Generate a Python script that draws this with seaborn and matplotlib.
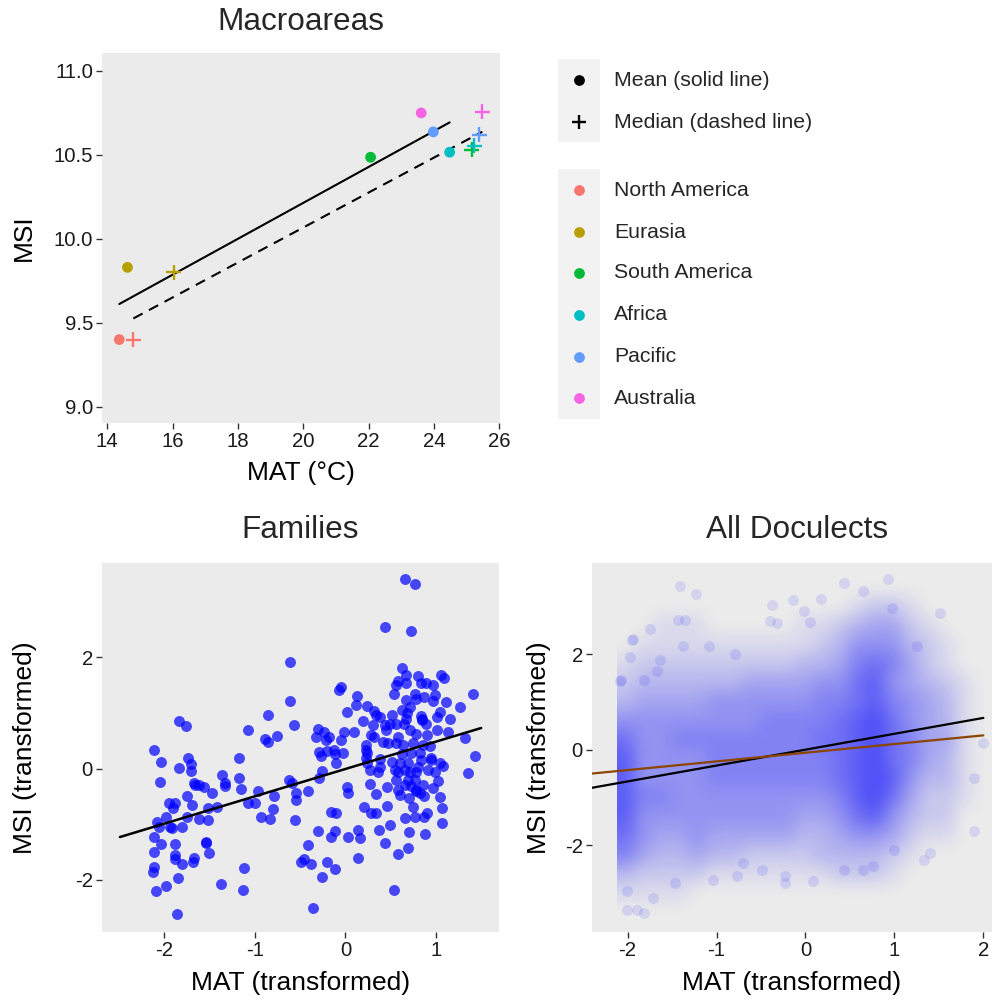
import numpy as np
import pandas as pd
import matplotlib
matplotlib.use("Agg")
import matplotlib.pyplot as plt
from matplotlib.patches import Rectangle
import seaborn as sns

# ---------------- data ----------------
macro_names = ["North America", "Eurasia", "South America", "Africa", "Pacific", "Australia"]
macro_colors = ["#F8766D", "#B79F00", "#00BA38", "#00BFC4", "#619CFF", "#F564E3"]
mean_mat = [14.37, 14.62, 22.06, 24.48, 23.98, 23.61]
mean_msi = [9.40, 9.83, 10.486, 10.516, 10.637, 10.75]
median_mat = [14.80, 16.03, 25.15, 25.23, 25.39, 25.48]
median_msi = [9.40, 9.80, 10.53, 10.554, 10.62, 10.758]

fam_mat = [-2.116, -2.035, -2.046, -1.947, -1.903, -1.88, -1.976, -2.08, -2.06, -1.94, -1.92,
           -2.11, -2.04, -2.11, -2.11, -2.12, -2.094, -1.976, -1.855, -1.848, -1.877, -1.884,
           -1.884, -1.80, -1.84, -1.755, -1.84, -1.737, -1.708, -1.704, -1.668, -1.66, -1.62,
           -1.56, -1.745, -1.69, -1.75, -1.80, -1.62, -1.516, -1.52, -1.47, -1.417, -1.54,
           -1.535, -1.51, -1.67, -1.68, -1.373, -1.36, -1.33, -1.33, -1.17, -1.17, -1.15,
           -1.078, -1.075, -0.997, -0.96, -1.12, -1.126, -0.935, -0.835, -0.80, -0.79, -0.883,
           -0.85, -0.75, -0.854, -0.61, -0.615, -0.567, -0.62, -0.59, -0.55, -0.55, -0.556,
           -0.41, -0.41, -0.486, -0.46, -0.383, -0.36, -0.258, -0.20, -0.114, -0.155, -0.114,
           -0.30, -0.155, -0.10, -0.30, -0.33, -0.236, -0.18, -0.21, -0.294, -0.27, -0.20,
           -0.125, -0.114, -0.022, -0.044, -0.018, -0.258, -0.29, -0.107, -0.07, -0.044, 0.018,
           0.10, 0.015, 0.033, 0.026, 0.14, 0.16, 0.14, 0.13, 0.114, 0.19, 0.24, 0.21, 0.28,
           0.335, 0.27, 0.335, 0.37, 0.434, 0.46, 0.46, 0.49, 0.58, 0.534, 0.434, 0.66, 0.766,
           0.73, 0.63, 0.67, 0.58, 0.556, 0.67, 0.534, 0.806, 0.83, 0.89, 0.97, 0.766, 0.785,
           0.87, 0.985, 0.97, 1.06, 1.09, 1.115, 1.27, 1.41, 1.15, 1.05, 1.016, 1.13, 1.32,
           1.435, 1.35, 1.01, 1.05, 1.08, 0.985, 1.02, 0.97, 1.05, 1.065, 1.065, 0.87, 0.90,
           0.87, 0.88, 0.70, 0.69, 0.66, 0.77, 0.75, 0.785, 0.70, 0.585, 0.60, 0.555, 0.47,
           0.415, 0.32, 0.28, 0.30, 0.34, 0.32, 0.434, 0.45, 0.49, 0.51, 0.38, 0.23, 0.23, 0.24,
           0.23, 0.24, 0.276, 0.36, 0.386, 0.386, 0.51, 0.563, 0.585, 0.636, 0.62, 0.60, 0.545,
           0.58, 0.644, 0.673, 0.68, 0.71, 0.67, 0.62, 0.563, 0.71, 0.785, 0.75, 0.72, 0.69,
           0.655, 0.71, 0.785, 0.766, 0.69, 0.655, 0.73, 0.80, 0.84, 0.82, 0.86, 0.90, 0.85,
           0.83, 0.85, 0.89, 0.93, 0.95, 0.91, 0.94, 0.86, 0.785, 0.82]
fam_msi = [0.335, 0.12, -0.234, -0.61, -0.71, -0.62, -0.86, -0.95, -1.04, -1.04, -1.07,
           -1.23, -1.35, -1.49, -1.77, -1.85, -2.20, -2.10, -2.62, -1.97, -1.35, -1.55,
           -1.63, -1.72, 0.86, 0.77, 0.006, 0.20, 0.08, -0.04, -0.26, -0.29, -0.29,
           -0.335, -0.49, -0.66, -0.86, -1.04, -0.90, -0.92, -0.70, -0.43, -0.68, -1.32,
           -1.34, -1.51, -1.61, -1.68, -2.08, -0.12, -0.25, -0.32, 0.19, -0.16, -0.37,
           0.69, -0.62, -0.62, -0.41, -1.78, -2.18, -0.86, -0.90, -0.73, -0.49, 0.53,
           0.47, 0.59, 0.96, 1.92, 1.21, 0.78, -0.20, -0.25, -0.43, -0.56, -0.92,
           -0.41, -1.37, -1.68, -1.63, -1.72, -2.50, -1.94, -1.68, -1.80, -1.23, -1.12,
           -1.12, -0.77, -0.80, 0.72, 0.56, 0.66, 0.56, 0.52, 0.305, 0.22, 0.32,
           0.335, 0.26, 0.29, 0.515, 0.665, -0.05, -0.16, 0.096, 1.41, 1.47, 1.02,
           0.665, -0.335, -0.43, -1.23, -1.10, -1.25, -1.61, 1.31, 1.14, 0.86, 1.13, -0.68, -0.80,
           -0.80, -0.28, -0.46, -1.11, -1.33, -0.67, -0.335, -1.01, -1.53, -2.18, 2.55, 3.40, 3.31,
           2.47, 1.80, 1.68, 1.58, 1.50, 1.53, 1.35, 1.66, 1.53, 1.53, 1.51, 1.35, 1.26,
           1.29, 1.32, 1.22, 1.68, 1.62, 1.19, 1.10, 1.35, 0.90, 1.01, 0.93, 0.665, 0.545,
           0.23, -0.084, 0.69, 0.096, 0.05, -0.054, -0.22, -0.35, -0.51, -0.70, -0.97, -0.50, -0.80,
           -0.86, -1.17, -1.13, -1.42, -0.89, -0.86, -0.68, -0.40, -0.53, -0.38, -0.47, -0.20, 0.455,
           0.47, 0.575, 0.60, 0.78, 0.96, 1.04, 0.78, 0.69, 0.81, 0.96, 0.93, 0.425, 0.335, 0.275,
           0.186, 0.096, -0.024, -0.054, 0.036, 0.17, 0.126, 0.455, 0.575, 0.425, 0.26, 0.096, -0.024,
           -0.054, 0.81, 0.90, 1.0, 1.11, 1.23, 1.05, 0.81, 0.69, 0.62, 0.455, 0.275, 0.096,
           -0.024, -0.054, -0.054, -0.20, -0.20, -0.29, -0.32, 0.036, 0.156, 0.275, 0.425, 0.605, 0.875,
           0.95, 0.90, 0.81, 0.40, 0.156, -0.024, 0.19, -0.29, -0.38, -0.44]

# model lines (intercept, slope) and x-extent
fam_line_x = [-2.49, 1.50]
fam_line_coef = (-0.006, 0.491)
doc_line_x = [-2.40, 2.00]
doc_line_black = (0.0, 0.333)
doc_line_brown = (-0.064, 0.182)

# All doculects: estimated point density (0-9) on a 0.2 x 0.4 grid
doc_x_range = (-2.12, 2.08)
doc_y_range = (-3.6, 3.6)
doc_density_rows = [  # top row y=3.4 ... bottom row y=-3.4 ; columns x=-2.02 ... 1.98
    "000000000000000000000",
    "000000000000012210000",
    "001110000011234421000",
    "011111111112355532100",
    "122222222233467642100",
    "233333344445578543210",
    "344445555556678654310",
    "555555556666789754310",
    "755666666667789764410",
    "855556666666789764310",
    "855556666666789853310",
    "866555555555689742210",
    "855555555544578532200",
    "754454444433455421100",
    "643343322223333210000",
    "322221111111222100000",
    "111100000000000000000",
    "000000000000000000000",
]
doc_fringe_mat = [-1.41, -1.23, -1.75, -1.94, -1.97, -2.08, -1.82, -1.43, -1.355, -1.38, -1.08,
                  -0.79, -0.38, -0.14, -0.02, 0.18, -0.40, -0.32, 0.05, 0.43, 0.65, 0.93, 0.97,
                  1.51, 1.25, 1.89, 1.89, 2.0, 1.40, 1.33, -0.23, -0.23, 0.09, -0.77, -1.04,
                  -1.47, -1.71, -1.82, -1.89, -2.01, -2.01, 0.43, 0.65, 0.76, 0.99, -0.70, -0.49,
                  -1.64, -1.67, -2.07, -1.95]
doc_fringe_msi = [3.44, 3.27, 2.53, 2.32, 1.94, 1.45, 1.47, 2.73, 2.73, 2.17, 2.17,
                  2.0, 3.04, 3.13, 2.90, 3.15, 2.69, 2.66, 2.67, 3.50, 3.32, 3.57, 2.97,
                  2.87, 2.17, -1.71, -0.59, 0.14, -2.17, -2.31, -2.66, -2.80, -2.76, -2.66, -2.73,
                  -2.80, -3.11, -3.43, -3.37, -3.36, -2.97, -2.52, -2.52, -2.45, -2.10, -2.38, -2.52,
                  1.89, 1.64, 1.47, 2.31]

# ---------------- style ----------------
sns.set_theme(style="white")
plt.rcParams["font.family"] = ["Liberation Sans", "DejaVu Sans"]
plt.rcParams["axes.unicode_minus"] = False

PANEL = "#EBEBEB"
TICKC = "#333333"
LABC = "#1A1A1A"
FS_TICK = 14.7
FS_AX = 19.0
FS_TITLE = 22.7
FS_LEG = 15.3

fig = plt.figure(figsize=(9.92, 10.0), dpi=100)


def style_ax(ax):
    ax.set_facecolor(PANEL)
    for s in ax.spines.values():
        s.set_visible(False)
    ax.grid(False)
    ax.tick_params(axis="both", which="both", length=4.5, width=1.0, color=TICKC,
                   labelcolor=LABC, labelsize=FS_TICK, pad=2, direction="out",
                   bottom=True, left=True)


def place_labels(ax, xl, yl, xy, yx):
    ax.set_xlabel(xl, fontsize=FS_AX, color="black")
    ax.set_ylabel(yl, fontsize=FS_AX, color="black")
    ax.xaxis.set_label_coords(0.5, xy)
    ax.yaxis.set_label_coords(yx, 0.5)
    for lab in (ax.xaxis.label, ax.yaxis.label):
        lab.set_va("center")
        lab.set_ha("center")


# ---------- Macroareas ----------
ax1 = fig.add_axes([0.1028, 0.577, 0.4012, 0.370])
style_ax(ax1)
dfm = pd.DataFrame({"mat": mean_mat, "msi": mean_msi, "area": macro_names})
dfd = pd.DataFrame({"mat": median_mat, "msi": median_msi, "area": macro_names})
pal = dict(zip(macro_names, macro_colors))
sns.regplot(data=dfm, x="mat", y="msi", ax=ax1, scatter=False, ci=None,
            line_kws=dict(color="black", lw=1.5))
sns.regplot(data=dfd, x="mat", y="msi", ax=ax1, scatter=False, ci=None,
            line_kws=dict(color="black", lw=1.5, dashes=(5, 3.5)))
sns.scatterplot(data=dfm, x="mat", y="msi", hue="area", palette=pal, ax=ax1,
                s=60, linewidth=0, legend=False, zorder=3)
sns.scatterplot(data=dfd, x="mat", y="msi", hue="area", palette=pal, ax=ax1,
                s=115, marker="+", linewidth=1.7, legend=False, zorder=3)
ax1.set_xlim(13.84, 26.02)
ax1.set_ylim(8.903, 11.107)
ax1.set_xticks([14, 16, 18, 20, 22, 24, 26])
ax1.set_yticks([9.0, 9.5, 10.0, 10.5, 11.0])
ax1.set_yticklabels(["9.0", "9.5", "10.0", "10.5", "11.0"])
place_labels(ax1, "MAT (°C)", "MSI", -0.135, -0.195)

# ---------- Families ----------
ax2 = fig.add_axes([0.1028, 0.0683, 0.4002, 0.3684])
style_ax(ax2)
dff = pd.DataFrame({"mat": fam_mat, "msi": fam_msi})
sns.scatterplot(data=dff, x="mat", y="msi", ax=ax2, color="blue", alpha=0.7,
                s=62, linewidth=0, zorder=2)
fx = np.array(fam_line_x)
ax2.plot(fx, fam_line_coef[0] + fam_line_coef[1] * fx, color="black", lw=1.8, zorder=3)
ax2.set_xlim(-2.688, 1.696)
ax2.set_ylim(-2.929, 3.689)
ax2.set_xticks([-2, -1, 0, 1])
ax2.set_yticks([-2, 0, 2])
place_labels(ax2, "MAT (transformed)", "MSI (transformed)", -0.139, -0.193)

# ---------- All Doculects ----------
ax3 = fig.add_axes([0.5968, 0.0683, 0.4029, 0.3684])
style_ax(ax3)
dens = np.array([[int(c) for c in row] for row in doc_density_rows], dtype=float)


def upsample(arr, f):
    ny, nx = arr.shape
    yo = (np.arange(ny * f) + 0.5) / f - 0.5
    xo = (np.arange(nx * f) + 0.5) / f - 0.5
    tmp = np.array([np.interp(xo, np.arange(nx), row) for row in arr])
    return np.array([np.interp(yo, np.arange(ny), col) for col in tmp.T]).T


def blur(a, k):
    ker = np.ones(k) / k
    pad = k // 2
    a2 = np.pad(a, ((0, 0), (pad, pad)), mode="edge")
    a = np.array([np.convolve(r, ker, mode="valid") for r in a2])
    a2 = np.pad(a, ((pad, pad), (0, 0)), mode="constant")
    a = np.array([np.convolve(c, ker, mode="valid") for c in a2.T]).T
    return a


smooth = blur(blur(upsample(dens, 10), 7), 7)
rgba = np.zeros(smooth.shape + (4,))
rgba[..., 2] = 1.0
rgba[..., 3] = np.clip(smooth * 0.075, 0, 1)
ax3.imshow(rgba, extent=(doc_x_range[0], doc_x_range[1], doc_y_range[0], doc_y_range[1]),
           origin="upper", aspect="auto", interpolation="bilinear", zorder=1)
dfr = pd.DataFrame({"mat": doc_fringe_mat, "msi": doc_fringe_msi})
sns.scatterplot(data=dfr, x="mat", y="msi", ax=ax3, color="blue", alpha=0.1,
                s=62, linewidth=0, zorder=2)
dx = np.array(doc_line_x)
ax3.plot(dx, doc_line_black[0] + doc_line_black[1] * dx, color="black", lw=1.6, zorder=4)
ax3.plot(dx, doc_line_brown[0] + doc_line_brown[1] * dx, color="#8B4500", lw=1.6, zorder=4)
ax3.set_xlim(-2.40, 2.094)
ax3.set_ylim(-3.818, 3.909)
ax3.set_xticks([-2, -1, 0, 1, 2])
ax3.set_yticks([-2, 0, 2])
place_labels(ax3, "MAT (transformed)", "MSI (transformed)", -0.139, -0.1325)

# ---------- titles ----------
fig.text(301 / 992, 1 - 22 / 1000, "Macroareas", ha="center", va="center", fontsize=FS_TITLE)
fig.text(300 / 992, 1 - 530 / 1000, "Families", ha="center", va="center", fontsize=FS_TITLE)
fig.text(797 / 992, 1 - 530 / 1000, "All Doculects", ha="center", va="center", fontsize=FS_TITLE)

# ---------- legend (drawn in pixel space) ----------
lax = fig.add_axes([0, 0, 1, 1], zorder=10)
lax.set_xlim(0, 992)
lax.set_ylim(1000, 0)
lax.axis("off")
lax.add_patch(Rectangle((558, 59), 42, 83, facecolor="#F2F2F2", edgecolor="none"))
lax.add_patch(Rectangle((558, 169), 42, 250, facecolor="#F2F2F2", edgecolor="none"))
key_x = 579
lax.scatter([key_x], [80], s=60, color="black", linewidths=0)
lax.scatter([key_x], [122], s=115, marker="+", color="black", linewidths=1.7)
lax.text(614, 80, "Mean (solid line)", va="center", ha="left", fontsize=FS_LEG)
lax.text(614, 122, "Median (dashed line)", va="center", ha="left", fontsize=FS_LEG)
row_y = [190, 232, 273, 315, 357, 398]
for name, col, yy in zip(macro_names, macro_colors, row_y):
    lax.scatter([key_x], [yy], s=60, color=col, linewidths=0)
    lax.text(614, yy, name, va="center", ha="left", fontsize=FS_LEG)

fig.savefig("out.png", dpi=100)
